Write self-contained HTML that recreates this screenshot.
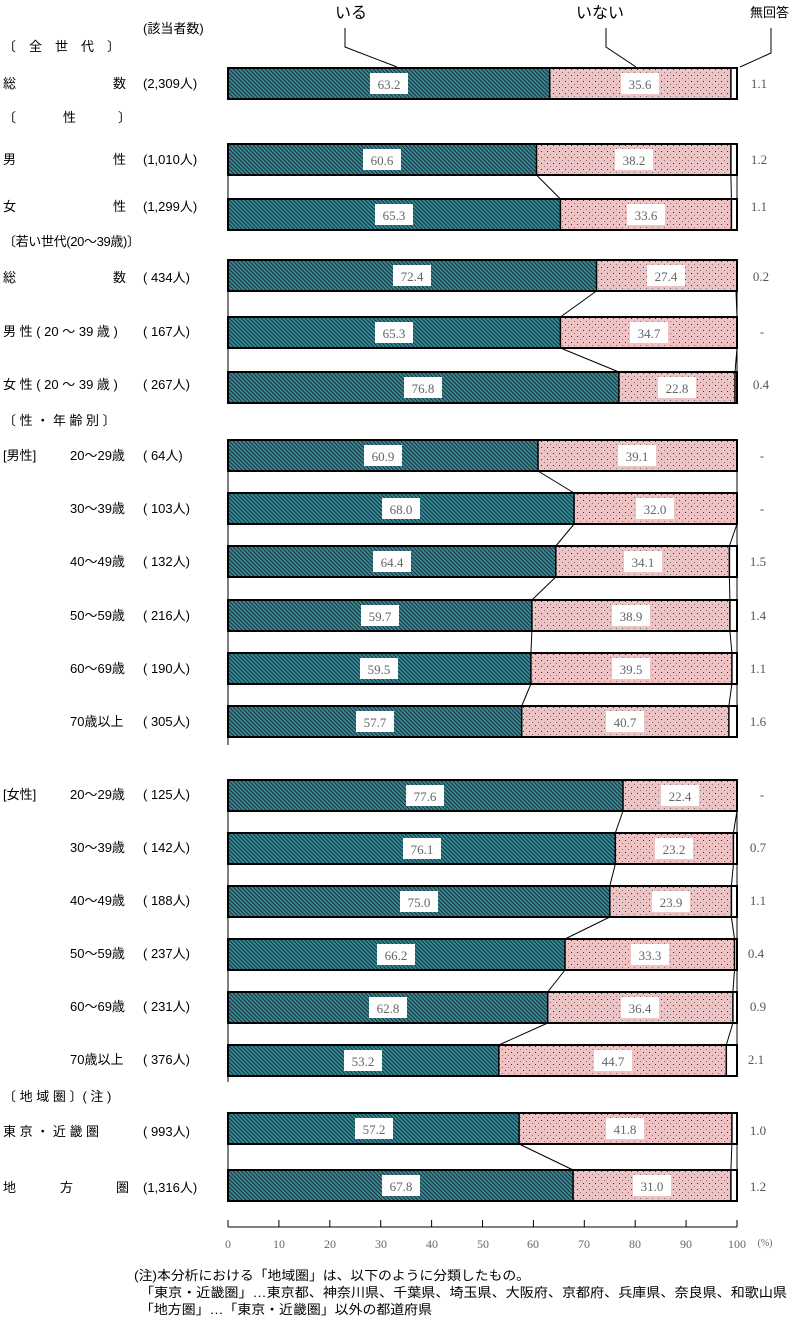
<!DOCTYPE html>
<html><head><meta charset="utf-8"><style>
body{margin:0;background:#fff;width:799px;height:1320px;overflow:hidden}
svg{display:block}
.l{font-family:"Liberation Sans","Noto Sans CJK JP",sans-serif;font-size:13px;fill:#000}
.n{font-family:"Liberation Serif","Noto Serif CJK SC",serif;font-size:13px;fill:#666;text-anchor:middle}
.r{font-family:"Liberation Serif",serif;font-size:13px;fill:#555;text-anchor:middle}
</style></head><body>
<svg width="799" height="1320" viewBox="0 0 799 1320" xmlns="http://www.w3.org/2000/svg">
<defs>
<pattern id="h" width="4" height="4" patternUnits="userSpaceOnUse"><rect width="4" height="4" fill="#3a8a98"/><path d="M-1,-1 L5,5 M-1,3 L1,5 M3,-1 L5,1" stroke="#14323a" stroke-width="1"/></pattern>
<pattern id="d" width="6" height="6" patternUnits="userSpaceOnUse"><rect width="6" height="6" fill="#efc3c3"/><rect x="1" y="1" width="1" height="1" fill="#333"/><rect x="4" y="4" width="1" height="1" fill="#777"/></pattern>
</defs>

<text class="l" x="335" y="18" style="font-size:16px">いる</text>
<text class="l" x="576" y="18" style="font-size:16px">いない</text>
<text class="l" x="750" y="17">無回答</text>
<g stroke="#000" fill="none" stroke-width="1">
<polyline points="345,28 345,47 397,67"/>
<polyline points="606,28 606,47 636,67"/>
<polyline points="771,28 771,53 740,67"/>
</g>

<text class="l" x="143" y="33">(該当者数)</text>
<text class="l" x="3" y="51">〔　全　世　代　〕</text>
<text class="l" x="3" y="88">総</text><text class="l" x="113" y="88">数</text><text class="l" x="143" y="88">(2,309人)</text>
<text class="l" x="3" y="122">〔</text><text class="l" x="63" y="122">性</text><text class="l" x="118" y="122">〕</text>
<text class="l" x="3" y="164">男</text><text class="l" x="113" y="164">性</text><text class="l" x="143" y="164">(1,010人)</text>
<text class="l" x="3" y="211">女</text><text class="l" x="113" y="211">性</text><text class="l" x="143" y="211">(1,299人)</text>
<text class="l" x="3" y="246" textLength="137">〔若い世代(20～39歳)〕</text>
<text class="l" x="3" y="282">総</text><text class="l" x="113" y="282">数</text><text class="l" x="143" y="282">(  434人)</text>
<text class="l" x="3" y="336">男 性 ( 20 ～ 39 歳 )</text><text class="l" x="143" y="336">(  167人)</text>
<text class="l" x="3" y="389">女 性 ( 20 ～ 39 歳 )</text><text class="l" x="143" y="389">(  267人)</text>
<text class="l" x="3" y="425">〔 性 ・ 年 齢 別 〕</text>
<text class="l" x="3" y="460">[男性]</text>
<g class="l">
<text x="70" y="460">20～29歳</text><text x="143" y="460">(   64人)</text>
<text x="70" y="513">30～39歳</text><text x="143" y="513">(  103人)</text>
<text x="70" y="566">40～49歳</text><text x="143" y="566">(  132人)</text>
<text x="70" y="620">50～59歳</text><text x="143" y="620">(  216人)</text>
<text x="70" y="673">60～69歳</text><text x="143" y="673">(  190人)</text>
<text x="70" y="726">70歳以上</text><text x="143" y="726">(  305人)</text>
<text x="3" y="799">[女性]</text>
<text x="70" y="799">20～29歳</text><text x="143" y="799">(  125人)</text>
<text x="70" y="852">30～39歳</text><text x="143" y="852">(  142人)</text>
<text x="70" y="905">40～49歳</text><text x="143" y="905">(  188人)</text>
<text x="70" y="958">50～59歳</text><text x="143" y="958">(  237人)</text>
<text x="70" y="1011">60～69歳</text><text x="143" y="1011">(  231人)</text>
<text x="70" y="1064">70歳以上</text><text x="143" y="1064">(  376人)</text>
<text x="3" y="1101">〔 地 域 圏 〕( 注 )</text>
<text x="3" y="1136">東 京 ・ 近 畿 圏</text><text x="143" y="1136">(  993人)</text>
<text x="3" y="1192">地</text><text x="60" y="1192">方</text><text x="116" y="1192">圏</text><text x="143" y="1192">(1,316人)</text>
</g>

<g stroke="#000" stroke-width="1" fill="none">
<path d="M228,175V199M737,175V199M536.5,175L560.4,199M730.9,175L731.4,199"/>
<path d="M228,291V317M737,291V317M596.5,291L560.4,317M736,291L737,317"/>
<path d="M228,348V372M737,348V372M560.4,348L618.9,372M737,348L735,372"/>
<path d="M228,471V493M737,471V493M538,471L574.1,493M737,471L737,493"/>
<path d="M228,524V546M737,524V546M574.1,524L555.8,546M737,524L729.4,546"/>
<path d="M228,577V600M737,577V600M555.8,577L531.9,600M729.4,577L729.9,600"/>
<path d="M228,631V653M737,631V653M531.9,631L530.9,653M729.9,631L731.9,653"/>
<path d="M228,684V706M737,684V706M530.9,684L521.7,706M731.9,684L728.9,706"/>
<path d="M228,737V745"/>
<path d="M228,811V833M737,811V833M623,811L615.3,833M737,811L733.4,833"/>
<path d="M228,864V886M737,864V886M615.3,864L609.8,886M733.4,864L731.4,886"/>
<path d="M228,917V939M737,917V939M609.8,917L565,939M731.4,917L734.5,939"/>
<path d="M228,970V992M737,970V992M565,970L547.7,992M734.5,970L732.9,992"/>
<path d="M228,1023V1045M737,1023V1045M547.7,1023L498.8,1045M732.9,1023L726.3,1045"/>
<path d="M228,1076V1082"/>
<path d="M228,1144V1170M737,1144V1170M519.1,1144L573.1,1170M731.9,1144L730.9,1170"/>
</g>

<g>
<g transform="translate(0,68)"><rect x="228" width="321.7" height="31" fill="url(#h)"/><rect x="549.7" width="181.2" height="31" fill="url(#d)"/><rect x="730.9" width="6.1" height="31" fill="#fff"/><path d="M549.7,0V31M730.9,0V31" stroke="#000" stroke-width="1.5"/><rect x="228" width="509" height="31" fill="none" stroke="#000" stroke-width="2"/><rect x="370" y="5" width="38" height="21" fill="#fff"/><text class="n" x="389" y="21">63.2</text><rect x="621" y="5" width="38" height="21" fill="#fff"/><text class="n" x="640" y="21">35.6</text></g>
<g transform="translate(0,144)"><rect x="228" width="308.5" height="31" fill="url(#h)"/><rect x="536.5" width="194.4" height="31" fill="url(#d)"/><rect x="730.9" width="6.1" height="31" fill="#fff"/><path d="M536.5,0V31M730.9,0V31" stroke="#000" stroke-width="1.5"/><rect x="228" width="509" height="31" fill="none" stroke="#000" stroke-width="2"/><rect x="363" y="5" width="38" height="21" fill="#fff"/><text class="n" x="382" y="21">60.6</text><rect x="615" y="5" width="38" height="21" fill="#fff"/><text class="n" x="634" y="21">38.2</text></g>
<g transform="translate(0,199)"><rect x="228" width="332.4" height="31" fill="url(#h)"/><rect x="560.4" width="171" height="31" fill="url(#d)"/><rect x="731.4" width="5.6" height="31" fill="#fff"/><path d="M560.4,0V31M731.4,0V31" stroke="#000" stroke-width="1.5"/><rect x="228" width="509" height="31" fill="none" stroke="#000" stroke-width="2"/><rect x="375" y="5" width="38" height="21" fill="#fff"/><text class="n" x="394" y="21">65.3</text><rect x="627" y="5" width="38" height="21" fill="#fff"/><text class="n" x="646" y="21">33.6</text></g>
<g transform="translate(0,260)"><rect x="228" width="368.5" height="31" fill="url(#h)"/><rect x="596.5" width="139.5" height="31" fill="url(#d)"/><path d="M596.5,0V31" stroke="#000" stroke-width="1.5"/><rect x="228" width="509" height="31" fill="none" stroke="#000" stroke-width="2"/><rect x="393" y="5" width="38" height="21" fill="#fff"/><text class="n" x="412" y="21">72.4</text><rect x="647" y="5" width="38" height="21" fill="#fff"/><text class="n" x="666" y="21">27.4</text></g>
<g transform="translate(0,317)"><rect x="228" width="332.4" height="31" fill="url(#h)"/><rect x="560.4" width="176.6" height="31" fill="url(#d)"/><path d="M560.4,0V31" stroke="#000" stroke-width="1.5"/><rect x="228" width="509" height="31" fill="none" stroke="#000" stroke-width="2"/><rect x="375" y="5" width="38" height="21" fill="#fff"/><text class="n" x="394" y="21">65.3</text><rect x="630" y="5" width="38" height="21" fill="#fff"/><text class="n" x="649" y="21">34.7</text></g>
<g transform="translate(0,372)"><rect x="228" width="390.9" height="31" fill="url(#h)"/><rect x="618.9" width="116.1" height="31" fill="url(#d)"/><path d="M618.9,0V31M735,0V31" stroke="#000" stroke-width="1.5"/><rect x="228" width="509" height="31" fill="none" stroke="#000" stroke-width="2"/><rect x="404" y="5" width="38" height="21" fill="#fff"/><text class="n" x="423" y="21">76.8</text><rect x="658" y="5" width="38" height="21" fill="#fff"/><text class="n" x="677" y="21">22.8</text></g>
<g transform="translate(0,440)"><rect x="228" width="310" height="31" fill="url(#h)"/><rect x="538" width="199" height="31" fill="url(#d)"/><path d="M538,0V31" stroke="#000" stroke-width="1.5"/><rect x="228" width="509" height="31" fill="none" stroke="#000" stroke-width="2"/><rect x="364" y="5" width="38" height="21" fill="#fff"/><text class="n" x="383" y="21">60.9</text><rect x="618" y="5" width="38" height="21" fill="#fff"/><text class="n" x="637" y="21">39.1</text></g>
<g transform="translate(0,493)"><rect x="228" width="346.1" height="31" fill="url(#h)"/><rect x="574.1" width="162.9" height="31" fill="url(#d)"/><path d="M574.1,0V31" stroke="#000" stroke-width="1.5"/><rect x="228" width="509" height="31" fill="none" stroke="#000" stroke-width="2"/><rect x="382" y="5" width="38" height="21" fill="#fff"/><text class="n" x="401" y="21">68.0</text><rect x="636" y="5" width="38" height="21" fill="#fff"/><text class="n" x="655" y="21">32.0</text></g>
<g transform="translate(0,546)"><rect x="228" width="327.8" height="31" fill="url(#h)"/><rect x="555.8" width="173.6" height="31" fill="url(#d)"/><rect x="729.4" width="7.6" height="31" fill="#fff"/><path d="M555.8,0V31M729.4,0V31" stroke="#000" stroke-width="1.5"/><rect x="228" width="509" height="31" fill="none" stroke="#000" stroke-width="2"/><rect x="373" y="5" width="38" height="21" fill="#fff"/><text class="n" x="392" y="21">64.4</text><rect x="624" y="5" width="38" height="21" fill="#fff"/><text class="n" x="643" y="21">34.1</text></g>
<g transform="translate(0,600)"><rect x="228" width="303.9" height="31" fill="url(#h)"/><rect x="531.9" width="198" height="31" fill="url(#d)"/><rect x="729.9" width="7.1" height="31" fill="#fff"/><path d="M531.9,0V31M729.9,0V31" stroke="#000" stroke-width="1.5"/><rect x="228" width="509" height="31" fill="none" stroke="#000" stroke-width="2"/><rect x="361" y="5" width="38" height="21" fill="#fff"/><text class="n" x="380" y="21">59.7</text><rect x="612" y="5" width="38" height="21" fill="#fff"/><text class="n" x="631" y="21">38.9</text></g>
<g transform="translate(0,653)"><rect x="228" width="302.9" height="31" fill="url(#h)"/><rect x="530.9" width="201" height="31" fill="url(#d)"/><rect x="731.9" width="5.1" height="31" fill="#fff"/><path d="M530.9,0V31M731.9,0V31" stroke="#000" stroke-width="1.5"/><rect x="228" width="509" height="31" fill="none" stroke="#000" stroke-width="2"/><rect x="360" y="5" width="38" height="21" fill="#fff"/><text class="n" x="379" y="21">59.5</text><rect x="612" y="5" width="38" height="21" fill="#fff"/><text class="n" x="631" y="21">39.5</text></g>
<g transform="translate(0,706)"><rect x="228" width="293.7" height="31" fill="url(#h)"/><rect x="521.7" width="207.2" height="31" fill="url(#d)"/><rect x="728.9" width="8.1" height="31" fill="#fff"/><path d="M521.7,0V31M728.9,0V31" stroke="#000" stroke-width="1.5"/><rect x="228" width="509" height="31" fill="none" stroke="#000" stroke-width="2"/><rect x="356" y="5" width="38" height="21" fill="#fff"/><text class="n" x="375" y="21">57.7</text><rect x="606" y="5" width="38" height="21" fill="#fff"/><text class="n" x="625" y="21">40.7</text></g>
<g transform="translate(0,780)"><rect x="228" width="395" height="31" fill="url(#h)"/><rect x="623" width="114" height="31" fill="url(#d)"/><path d="M623,0V31" stroke="#000" stroke-width="1.5"/><rect x="228" width="509" height="31" fill="none" stroke="#000" stroke-width="2"/><rect x="406" y="5" width="38" height="21" fill="#fff"/><text class="n" x="425" y="21">77.6</text><rect x="661" y="5" width="38" height="21" fill="#fff"/><text class="n" x="680" y="21">22.4</text></g>
<g transform="translate(0,833)"><rect x="228" width="387.3" height="31" fill="url(#h)"/><rect x="615.3" width="118.1" height="31" fill="url(#d)"/><rect x="733.4" width="3.6" height="31" fill="#fff"/><path d="M615.3,0V31M733.4,0V31" stroke="#000" stroke-width="1.5"/><rect x="228" width="509" height="31" fill="none" stroke="#000" stroke-width="2"/><rect x="403" y="5" width="38" height="21" fill="#fff"/><text class="n" x="422" y="21">76.1</text><rect x="655" y="5" width="38" height="21" fill="#fff"/><text class="n" x="674" y="21">23.2</text></g>
<g transform="translate(0,886)"><rect x="228" width="381.8" height="31" fill="url(#h)"/><rect x="609.8" width="121.6" height="31" fill="url(#d)"/><rect x="731.4" width="5.6" height="31" fill="#fff"/><path d="M609.8,0V31M731.4,0V31" stroke="#000" stroke-width="1.5"/><rect x="228" width="509" height="31" fill="none" stroke="#000" stroke-width="2"/><rect x="400" y="5" width="38" height="21" fill="#fff"/><text class="n" x="419" y="21">75.0</text><rect x="652" y="5" width="38" height="21" fill="#fff"/><text class="n" x="671" y="21">23.9</text></g>
<g transform="translate(0,939)"><rect x="228" width="337" height="31" fill="url(#h)"/><rect x="565" width="169.5" height="31" fill="url(#d)"/><rect x="734.5" width="2.5" height="31" fill="#fff"/><path d="M565,0V31M734.5,0V31" stroke="#000" stroke-width="1.5"/><rect x="228" width="509" height="31" fill="none" stroke="#000" stroke-width="2"/><rect x="377" y="5" width="38" height="21" fill="#fff"/><text class="n" x="396" y="21">66.2</text><rect x="631" y="5" width="38" height="21" fill="#fff"/><text class="n" x="650" y="21">33.3</text></g>
<g transform="translate(0,992)"><rect x="228" width="319.7" height="31" fill="url(#h)"/><rect x="547.7" width="185.2" height="31" fill="url(#d)"/><rect x="732.9" width="4.1" height="31" fill="#fff"/><path d="M547.7,0V31M732.9,0V31" stroke="#000" stroke-width="1.5"/><rect x="228" width="509" height="31" fill="none" stroke="#000" stroke-width="2"/><rect x="369" y="5" width="38" height="21" fill="#fff"/><text class="n" x="388" y="21">62.8</text><rect x="621" y="5" width="38" height="21" fill="#fff"/><text class="n" x="640" y="21">36.4</text></g>
<g transform="translate(0,1045)"><rect x="228" width="270.8" height="31" fill="url(#h)"/><rect x="498.8" width="227.5" height="31" fill="url(#d)"/><rect x="726.3" width="10.7" height="31" fill="#fff"/><path d="M498.8,0V31M726.3,0V31" stroke="#000" stroke-width="1.5"/><rect x="228" width="509" height="31" fill="none" stroke="#000" stroke-width="2"/><rect x="344" y="5" width="38" height="21" fill="#fff"/><text class="n" x="363" y="21">53.2</text><rect x="594" y="5" width="38" height="21" fill="#fff"/><text class="n" x="613" y="21">44.7</text></g>
<g transform="translate(0,1113)"><rect x="228" width="291.1" height="31" fill="url(#h)"/><rect x="519.1" width="212.8" height="31" fill="url(#d)"/><rect x="731.9" width="5.1" height="31" fill="#fff"/><path d="M519.1,0V31M731.9,0V31" stroke="#000" stroke-width="1.5"/><rect x="228" width="509" height="31" fill="none" stroke="#000" stroke-width="2"/><rect x="355" y="5" width="38" height="21" fill="#fff"/><text class="n" x="374" y="21">57.2</text><rect x="606" y="5" width="38" height="21" fill="#fff"/><text class="n" x="625" y="21">41.8</text></g>
<g transform="translate(0,1170)"><rect x="228" width="345.1" height="31" fill="url(#h)"/><rect x="573.1" width="157.8" height="31" fill="url(#d)"/><rect x="730.9" width="6.1" height="31" fill="#fff"/><path d="M573.1,0V31M730.9,0V31" stroke="#000" stroke-width="1.5"/><rect x="228" width="509" height="31" fill="none" stroke="#000" stroke-width="2"/><rect x="382" y="5" width="38" height="21" fill="#fff"/><text class="n" x="401" y="21">67.8</text><rect x="633" y="5" width="38" height="21" fill="#fff"/><text class="n" x="652" y="21">31.0</text></g>
</g>

<g class="r">
<text x="759" y="88">1.1</text><text x="759" y="164">1.2</text><text x="759" y="211">1.1</text>
<text x="761" y="281">0.2</text><text x="762" y="336">-</text><text x="761" y="389">0.4</text>
<text x="762" y="460">-</text><text x="762" y="513">-</text><text x="758" y="566">1.5</text>
<text x="758" y="620">1.4</text><text x="758" y="673">1.1</text><text x="758" y="726">1.6</text>
<text x="762" y="799">-</text><text x="758" y="852">0.7</text><text x="758" y="905">1.1</text>
<text x="756" y="958">0.4</text><text x="758" y="1011">0.9</text><text x="756" y="1064">2.1</text>
<text x="758" y="1135">1.0</text><text x="758" y="1191">1.2</text>
</g>

<g stroke="#000" stroke-width="1">
<path d="M228,1227H737M228,1220V1227M278.9,1220V1227M329.8,1220V1227M380.7,1220V1227M431.6,1220V1227M482.5,1220V1227M533.4,1220V1227M584.3,1220V1227M635.2,1220V1227M686.1,1220V1227M737,1220V1227"/>
</g>
<g class="r" style="font-size:12px;fill:#666">
<text x="228" y="1248">0</text><text x="279" y="1248">10</text><text x="330" y="1248">20</text><text x="381" y="1248">30</text><text x="432" y="1248">40</text><text x="483" y="1248">50</text><text x="533" y="1248">60</text><text x="584" y="1248">70</text><text x="635" y="1248">80</text><text x="686" y="1248">90</text><text x="737" y="1248">100</text><text x="765" y="1246" style="font-size:10px">(%)</text>
</g>

<g class="l" style="font-size:13px">
<text x="134" y="1280" textLength="396" lengthAdjust="spacingAndGlyphs">(注)本分析における「地域圏」は、以下のように分類したもの。</text>
<text x="140" y="1297" textLength="647" lengthAdjust="spacingAndGlyphs">「東京・近畿圏」…東京都、神奈川県、千葉県、埼玉県、大阪府、京都府、兵庫県、奈良県、和歌山県</text>
<text x="140" y="1314" textLength="292" lengthAdjust="spacingAndGlyphs">「地方圏」…「東京・近畿圏」以外の都道府県</text>
</g>
</svg>
</body></html>
